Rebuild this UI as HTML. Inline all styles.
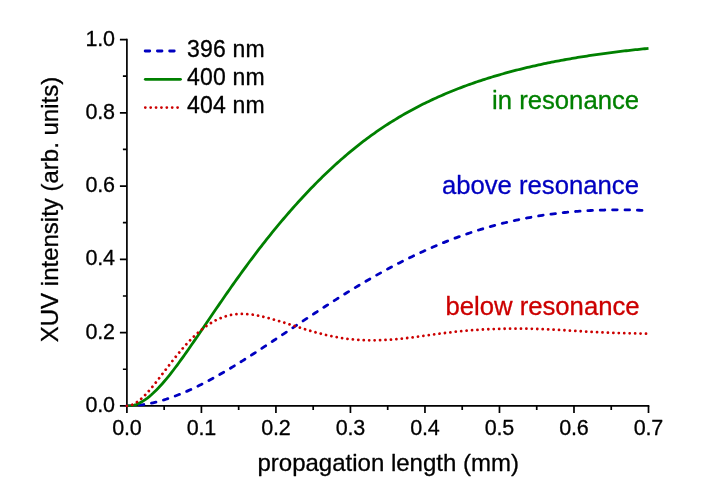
<!DOCTYPE html>
<html><head><meta charset="utf-8"><title>XUV intensity vs propagation length</title>
<style>
html,body{margin:0;padding:0;background:#fff;}
body{width:706px;height:496px;overflow:hidden;}
svg{display:block;font-family:"Liberation Sans",sans-serif;will-change:transform;}
text{stroke-width:0.3px;stroke-linejoin:round;}
.k text{stroke:#000;}
.c{fill:none;stroke-width:2.8;stroke-linejoin:round;}
</style></head><body>
<svg width="706" height="496" viewBox="0 0 706 496">
<rect width="706" height="496" fill="#fff"/>
<g fill="none" stroke="#000" stroke-width="1.7">
<path d="M126.9,38.699999999999996 V405.9 H649.35"/>
<path d="M126.90,405.9 v7 M201.41,405.9 v7 M275.93,405.9 v7 M350.44,405.9 v7 M424.96,405.9 v7 M499.47,405.9 v7 M573.99,405.9 v7 M648.50,405.9 v7 M164.16,405.9 v4 M238.67,405.9 v4 M313.19,405.9 v4 M387.70,405.9 v4 M462.21,405.9 v4 M536.73,405.9 v4 M611.24,405.9 v4 M126.9,405.90 h-7 M126.9,332.63 h-7 M126.9,259.36 h-7 M126.9,186.09 h-7 M126.9,112.82 h-7 M126.9,39.55 h-7 M126.9,369.26 h-4 M126.9,296.00 h-4 M126.9,222.72 h-4 M126.9,149.45 h-4 M126.9,76.19 h-4"/>
</g>
<g class="c">
<clipPath id="pc"><rect x="120" y="30" width="535" height="376.75"/></clipPath>
<path clip-path="url(#pc)" d="M126.90,405.85 L128.76,405.83 L130.63,405.78 L132.49,405.70 L134.35,405.58 L136.21,405.44 L138.08,405.26 L139.94,405.05 L141.80,404.81 L143.67,404.54 L145.53,404.25 L147.39,403.92 L149.25,403.57 L151.12,403.19 L152.98,402.78 L154.84,402.35 L156.71,401.89 L158.57,401.40 L160.43,400.89 L162.29,400.36 L164.16,399.80 L166.02,399.22 L167.88,398.62 L169.75,397.99 L171.61,397.35 L173.47,396.68 L175.33,395.99 L177.20,395.28 L179.06,394.55 L180.92,393.80 L182.79,393.03 L184.65,392.24 L186.51,391.44 L188.37,390.62 L190.24,389.78 L192.10,388.92 L193.96,388.04 L195.83,387.16 L197.69,386.25 L199.55,385.33 L201.41,384.40 L203.28,383.45 L205.14,382.48 L207.00,381.51 L208.87,380.52 L210.73,379.51 L212.59,378.50 L214.45,377.47 L216.32,376.43 L218.18,375.38 L220.04,374.32 L221.91,373.25 L223.77,372.17 L225.63,371.07 L227.49,369.97 L229.36,368.86 L231.22,367.74 L233.08,366.62 L234.95,365.48 L236.81,364.34 L238.67,363.18 L240.53,362.03 L242.40,360.86 L244.26,359.69 L246.12,358.51 L247.99,357.33 L249.85,356.14 L251.71,354.94 L253.57,353.74 L255.44,352.54 L257.30,351.33 L259.16,350.12 L261.03,348.90 L262.89,347.68 L264.75,346.45 L266.61,345.23 L268.48,344.00 L270.34,342.76 L272.20,341.53 L274.07,340.29 L275.93,339.05 L277.79,337.81 L279.65,336.57 L281.52,335.33 L283.38,334.09 L285.24,332.84 L287.11,331.60 L288.97,330.36 L290.83,329.11 L292.69,327.87 L294.56,326.62 L296.42,325.38 L298.28,324.14 L300.15,322.90 L302.01,321.66 L303.87,320.42 L305.73,319.19 L307.60,317.95 L309.46,316.72 L311.32,315.49 L313.19,314.27 L315.05,313.04 L316.91,311.82 L318.77,310.60 L320.64,309.39 L322.50,308.18 L324.36,306.97 L326.23,305.77 L328.09,304.56 L329.95,303.37 L331.81,302.18 L333.68,300.99 L335.54,299.81 L337.40,298.63 L339.27,297.45 L341.13,296.29 L342.99,295.12 L344.85,293.96 L346.72,292.81 L348.58,291.66 L350.44,290.52 L352.31,289.38 L354.17,288.25 L356.03,287.13 L357.89,286.01 L359.76,284.90 L361.62,283.79 L363.48,282.69 L365.35,281.60 L367.21,280.51 L369.07,279.43 L370.93,278.36 L372.80,277.29 L374.66,276.23 L376.52,275.18 L378.39,274.14 L380.25,273.10 L382.11,272.07 L383.97,271.04 L385.84,270.03 L387.70,269.02 L389.56,268.02 L391.43,267.03 L393.29,266.04 L395.15,265.07 L397.01,264.10 L398.88,263.14 L400.74,262.18 L402.60,261.24 L404.47,260.30 L406.33,259.38 L408.19,258.46 L410.05,257.54 L411.92,256.64 L413.78,255.75 L415.64,254.86 L417.51,253.98 L419.37,253.11 L421.23,252.25 L423.09,251.40 L424.96,250.56 L426.82,249.72 L428.68,248.89 L430.55,248.08 L432.41,247.27 L434.27,246.47 L436.13,245.68 L438.00,244.90 L439.86,244.12 L441.72,243.36 L443.59,242.60 L445.45,241.86 L447.31,241.12 L449.17,240.39 L451.04,239.67 L452.90,238.96 L454.76,238.26 L456.63,237.57 L458.49,236.89 L460.35,236.21 L462.21,235.55 L464.08,234.89 L465.94,234.25 L467.80,233.61 L469.67,232.98 L471.53,232.36 L473.39,231.75 L475.25,231.15 L477.12,230.55 L478.98,229.97 L480.84,229.40 L482.71,228.83 L484.57,228.27 L486.43,227.73 L488.29,227.19 L490.16,226.66 L492.02,226.14 L493.88,225.62 L495.75,225.12 L497.61,224.63 L499.47,224.14 L501.33,223.66 L503.20,223.20 L505.06,222.74 L506.92,222.29 L508.79,221.85 L510.65,221.41 L512.51,220.99 L514.37,220.57 L516.24,220.17 L518.10,219.77 L519.96,219.38 L521.83,219.00 L523.69,218.62 L525.55,218.26 L527.41,217.90 L529.28,217.56 L531.14,217.22 L533.00,216.89 L534.87,216.56 L536.73,216.25 L538.59,215.94 L540.45,215.64 L542.32,215.35 L544.18,215.07 L546.04,214.80 L547.91,214.53 L549.77,214.27 L551.63,214.02 L553.49,213.78 L555.36,213.55 L557.22,213.32 L559.08,213.10 L560.95,212.89 L562.81,212.69 L564.67,212.49 L566.53,212.30 L568.40,212.12 L570.26,211.95 L572.12,211.78 L573.99,211.62 L575.85,211.47 L577.71,211.32 L579.57,211.19 L581.44,211.06 L583.30,210.93 L585.16,210.82 L587.03,210.71 L588.89,210.60 L590.75,210.51 L592.61,210.42 L594.48,210.34 L596.34,210.26 L598.20,210.19 L600.07,210.13 L601.93,210.07 L603.79,210.03 L605.65,209.98 L607.52,209.95 L609.38,209.91 L611.24,209.89 L613.11,209.87 L614.97,209.86 L616.83,209.85 L618.69,209.85 L620.56,209.86 L622.42,209.87 L624.28,209.89 L626.15,209.91 L628.01,209.94 L629.87,209.98 L631.73,210.02 L633.60,210.06 L635.46,210.11 L637.32,210.17 L639.19,210.23 L641.05,210.30 L642.91,210.37 L644.77,210.45 L646.64,210.53 L648.50,210.62" stroke="#0000c0" stroke-dasharray="4.6 7.785" stroke-linecap="round"/>
<path clip-path="url(#pc)" d="M126.90,405.93 L128.76,405.97 L130.63,405.83 L132.49,405.53 L134.35,405.07 L136.21,404.46 L138.08,403.71 L139.94,402.83 L141.80,401.81 L143.67,400.67 L145.53,399.41 L147.39,398.03 L149.25,396.56 L151.12,394.98 L152.98,393.31 L154.84,391.54 L156.71,389.69 L158.57,387.77 L160.43,385.76 L162.29,383.69 L164.16,381.54 L166.02,379.34 L167.88,377.08 L169.75,374.76 L171.61,372.40 L173.47,369.99 L175.33,367.53 L177.20,365.04 L179.06,362.51 L180.92,359.94 L182.79,357.35 L184.65,354.74 L186.51,352.10 L188.37,349.43 L190.24,346.76 L192.10,344.06 L193.96,341.36 L195.83,338.65 L197.69,335.92 L199.55,333.20 L201.41,330.46 L203.28,327.73 L205.14,324.99 L207.00,322.25 L208.87,319.51 L210.73,316.77 L212.59,314.04 L214.45,311.31 L216.32,308.58 L218.18,305.86 L220.04,303.15 L221.91,300.45 L223.77,297.75 L225.63,295.06 L227.49,292.39 L229.36,289.72 L231.22,287.07 L233.08,284.43 L234.95,281.80 L236.81,279.18 L238.67,276.58 L240.53,273.99 L242.40,271.42 L244.26,268.86 L246.12,266.32 L247.99,263.79 L249.85,261.28 L251.71,258.79 L253.57,256.31 L255.44,253.84 L257.30,251.40 L259.16,248.97 L261.03,246.56 L262.89,244.17 L264.75,241.79 L266.61,239.43 L268.48,237.09 L270.34,234.77 L272.20,232.46 L274.07,230.18 L275.93,227.90 L277.79,225.65 L279.65,223.42 L281.52,221.20 L283.38,219.00 L285.24,216.82 L287.11,214.65 L288.97,212.50 L290.83,210.37 L292.69,208.26 L294.56,206.16 L296.42,204.08 L298.28,202.02 L300.15,199.98 L302.01,197.95 L303.87,195.94 L305.73,193.95 L307.60,191.97 L309.46,190.02 L311.32,188.08 L313.19,186.16 L315.05,184.26 L316.91,182.38 L318.77,180.51 L320.64,178.67 L322.50,176.84 L324.36,175.03 L326.23,173.24 L328.09,171.46 L329.95,169.71 L331.81,167.97 L333.68,166.25 L335.54,164.55 L337.40,162.87 L339.27,161.21 L341.13,159.56 L342.99,157.93 L344.85,156.33 L346.72,154.73 L348.58,153.16 L350.44,151.61 L352.31,150.07 L354.17,148.55 L356.03,147.05 L357.89,145.57 L359.76,144.11 L361.62,142.66 L363.48,141.23 L365.35,139.82 L367.21,138.43 L369.07,137.05 L370.93,135.69 L372.80,134.35 L374.66,133.03 L376.52,131.72 L378.39,130.43 L380.25,129.16 L382.11,127.90 L383.97,126.67 L385.84,125.44 L387.70,124.24 L389.56,123.04 L391.43,121.87 L393.29,120.71 L395.15,119.57 L397.01,118.44 L398.88,117.32 L400.74,116.22 L402.60,115.14 L404.47,114.07 L406.33,113.01 L408.19,111.97 L410.05,110.94 L411.92,109.93 L413.78,108.93 L415.64,107.94 L417.51,106.97 L419.37,106.01 L421.23,105.06 L423.09,104.12 L424.96,103.20 L426.82,102.29 L428.68,101.39 L430.55,100.50 L432.41,99.63 L434.27,98.77 L436.13,97.92 L438.00,97.08 L439.86,96.25 L441.72,95.43 L443.59,94.62 L445.45,93.83 L447.31,93.04 L449.17,92.27 L451.04,91.50 L452.90,90.75 L454.76,90.00 L456.63,89.27 L458.49,88.54 L460.35,87.83 L462.21,87.12 L464.08,86.42 L465.94,85.74 L467.80,85.06 L469.67,84.39 L471.53,83.72 L473.39,83.07 L475.25,82.43 L477.12,81.79 L478.98,81.17 L480.84,80.55 L482.71,79.94 L484.57,79.33 L486.43,78.74 L488.29,78.15 L490.16,77.57 L492.02,77.00 L493.88,76.44 L495.75,75.88 L497.61,75.33 L499.47,74.79 L501.33,74.26 L503.20,73.73 L505.06,73.21 L506.92,72.70 L508.79,72.19 L510.65,71.69 L512.51,71.20 L514.37,70.71 L516.24,70.23 L518.10,69.75 L519.96,69.29 L521.83,68.82 L523.69,68.37 L525.55,67.92 L527.41,67.48 L529.28,67.04 L531.14,66.61 L533.00,66.18 L534.87,65.76 L536.73,65.35 L538.59,64.94 L540.45,64.53 L542.32,64.13 L544.18,63.74 L546.04,63.35 L547.91,62.97 L549.77,62.59 L551.63,62.22 L553.49,61.85 L555.36,61.49 L557.22,61.13 L559.08,60.78 L560.95,60.43 L562.81,60.09 L564.67,59.75 L566.53,59.41 L568.40,59.08 L570.26,58.76 L572.12,58.43 L573.99,58.12 L575.85,57.80 L577.71,57.49 L579.57,57.19 L581.44,56.89 L583.30,56.59 L585.16,56.30 L587.03,56.01 L588.89,55.72 L590.75,55.44 L592.61,55.17 L594.48,54.89 L596.34,54.62 L598.20,54.36 L600.07,54.09 L601.93,53.83 L603.79,53.58 L605.65,53.32 L607.52,53.08 L609.38,52.83 L611.24,52.59 L613.11,52.35 L614.97,52.11 L616.83,51.88 L618.69,51.65 L620.56,51.42 L622.42,51.20 L624.28,50.98 L626.15,50.76 L628.01,50.55 L629.87,50.33 L631.73,50.13 L633.60,49.92 L635.46,49.72 L637.32,49.52 L639.19,49.32 L641.05,49.12 L642.91,48.93 L644.77,48.74 L646.64,48.55 L648.50,48.37" stroke="#008000" stroke-linecap="butt"/>
<path d="M126.90,405.80 L128.76,405.67 L130.63,405.26 L132.49,404.61 L134.35,403.72 L136.21,402.62 L138.08,401.33 L139.94,399.87 L141.80,398.24 L143.67,396.47 L145.53,394.58 L147.39,392.57 L149.25,390.47 L151.12,388.28 L152.98,386.03 L154.84,383.71 L156.71,381.35 L158.57,378.96 L160.43,376.54 L162.29,374.10 L164.16,371.66 L166.02,369.22 L167.88,366.78 L169.75,364.37 L171.61,361.97 L173.47,359.60 L175.33,357.26 L177.20,354.96 L179.06,352.69 L180.92,350.48 L182.79,348.30 L184.65,346.18 L186.51,344.11 L188.37,342.10 L190.24,340.15 L192.10,338.26 L193.96,336.43 L195.83,334.67 L197.69,332.98 L199.55,331.36 L201.41,329.81 L203.28,328.33 L205.14,326.92 L207.00,325.58 L208.87,324.32 L210.73,323.14 L212.59,322.03 L214.45,320.99 L216.32,320.02 L218.18,319.13 L220.04,318.32 L221.91,317.58 L223.77,316.90 L225.63,316.30 L227.49,315.78 L229.36,315.31 L231.22,314.92 L233.08,314.59 L234.95,314.33 L236.81,314.13 L238.67,313.99 L240.53,313.91 L242.40,313.89 L244.26,313.92 L246.12,314.00 L247.99,314.14 L249.85,314.32 L251.71,314.54 L253.57,314.81 L255.44,315.11 L257.30,315.45 L259.16,315.83 L261.03,316.23 L262.89,316.66 L264.75,317.11 L266.61,317.58 L268.48,318.07 L270.34,318.57 L272.20,319.09 L274.07,319.62 L275.93,320.16 L277.79,320.71 L279.65,321.27 L281.52,321.83 L283.38,322.40 L285.24,322.98 L287.11,323.57 L288.97,324.15 L290.83,324.75 L292.69,325.34 L294.56,325.93 L296.42,326.53 L298.28,327.12 L300.15,327.71 L302.01,328.29 L303.87,328.87 L305.73,329.44 L307.60,330.01 L309.46,330.56 L311.32,331.11 L313.19,331.65 L315.05,332.17 L316.91,332.68 L318.77,333.18 L320.64,333.67 L322.50,334.14 L324.36,334.59 L326.23,335.04 L328.09,335.46 L329.95,335.87 L331.81,336.26 L333.68,336.64 L335.54,336.99 L337.40,337.33 L339.27,337.65 L341.13,337.95 L342.99,338.24 L344.85,338.50 L346.72,338.75 L348.58,338.98 L350.44,339.18 L352.31,339.37 L354.17,339.55 L356.03,339.70 L357.89,339.83 L359.76,339.95 L361.62,340.05 L363.48,340.13 L365.35,340.20 L367.21,340.25 L369.07,340.28 L370.93,340.30 L372.80,340.30 L374.66,340.28 L376.52,340.25 L378.39,340.21 L380.25,340.15 L382.11,340.08 L383.97,339.99 L385.84,339.90 L387.70,339.79 L389.56,339.66 L391.43,339.53 L393.29,339.38 L395.15,339.23 L397.01,339.06 L398.88,338.89 L400.74,338.70 L402.60,338.51 L404.47,338.31 L406.33,338.10 L408.19,337.88 L410.05,337.66 L411.92,337.43 L413.78,337.20 L415.64,336.96 L417.51,336.71 L419.37,336.47 L421.23,336.21 L423.09,335.96 L424.96,335.70 L426.82,335.45 L428.68,335.19 L430.55,334.93 L432.41,334.67 L434.27,334.42 L436.13,334.16 L438.00,333.91 L439.86,333.66 L441.72,333.41 L443.59,333.17 L445.45,332.93 L447.31,332.70 L449.17,332.47 L451.04,332.25 L452.90,332.03 L454.76,331.82 L456.63,331.62 L458.49,331.42 L460.35,331.23 L462.21,331.05 L464.08,330.88 L465.94,330.71 L467.80,330.55 L469.67,330.40 L471.53,330.25 L473.39,330.11 L475.25,329.98 L477.12,329.86 L478.98,329.74 L480.84,329.63 L482.71,329.53 L484.57,329.43 L486.43,329.34 L488.29,329.25 L490.16,329.17 L492.02,329.10 L493.88,329.03 L495.75,328.97 L497.61,328.91 L499.47,328.86 L501.33,328.82 L503.20,328.78 L505.06,328.74 L506.92,328.71 L508.79,328.68 L510.65,328.67 L512.51,328.65 L514.37,328.64 L516.24,328.64 L518.10,328.64 L519.96,328.65 L521.83,328.66 L523.69,328.68 L525.55,328.71 L527.41,328.74 L529.28,328.77 L531.14,328.81 L533.00,328.86 L534.87,328.91 L536.73,328.96 L538.59,329.02 L540.45,329.09 L542.32,329.16 L544.18,329.23 L546.04,329.31 L547.91,329.39 L549.77,329.48 L551.63,329.57 L553.49,329.66 L555.36,329.76 L557.22,329.86 L559.08,329.96 L560.95,330.06 L562.81,330.17 L564.67,330.28 L566.53,330.39 L568.40,330.51 L570.26,330.62 L572.12,330.74 L573.99,330.85 L575.85,330.97 L577.71,331.08 L579.57,331.20 L581.44,331.31 L583.30,331.43 L585.16,331.54 L587.03,331.65 L588.89,331.75 L590.75,331.86 L592.61,331.96 L594.48,332.06 L596.34,332.16 L598.20,332.25 L600.07,332.34 L601.93,332.43 L603.79,332.51 L605.65,332.59 L607.52,332.66 L609.38,332.73 L611.24,332.80 L613.11,332.87 L614.97,332.93 L616.83,332.99 L618.69,333.04 L620.56,333.10 L622.42,333.15 L624.28,333.19 L626.15,333.24 L628.01,333.28 L629.87,333.33 L631.73,333.37 L633.60,333.41 L635.46,333.45 L637.32,333.49 L639.19,333.54 L641.05,333.58 L642.91,333.62 L644.77,333.67 L646.64,333.72 L648.50,333.78" stroke="#cc0000" stroke-dasharray="0.01 5.432" stroke-linecap="round"/>
<path d="M145.15,51.0 H181" stroke="#0000c0" stroke-dasharray="4.6 7.65" stroke-linecap="round"/>
<path d="M145.3,79.3 H180.5" stroke="#008000" stroke-linecap="round"/>
<path d="M145.3,107.6 H181" stroke="#cc0000" stroke-dasharray="0.01 5.37" stroke-linecap="round"/>
</g>
<g class="k" font-size="21.5px" letter-spacing="-0.2" fill="#000"><text x="126.90" y="434.5" text-anchor="middle">0.0</text><text x="201.41" y="434.5" text-anchor="middle">0.1</text><text x="275.93" y="434.5" text-anchor="middle">0.2</text><text x="350.44" y="434.5" text-anchor="middle">0.3</text><text x="424.96" y="434.5" text-anchor="middle">0.4</text><text x="499.47" y="434.5" text-anchor="middle">0.5</text><text x="573.99" y="434.5" text-anchor="middle">0.6</text><text x="648.50" y="434.5" text-anchor="middle">0.7</text><text x="114.7" y="411.90" text-anchor="end">0.0</text><text x="114.7" y="338.63" text-anchor="end">0.2</text><text x="114.7" y="265.36" text-anchor="end">0.4</text><text x="114.7" y="192.09" text-anchor="end">0.6</text><text x="114.7" y="118.82" text-anchor="end">0.8</text><text x="114.7" y="45.55" text-anchor="end">1.0</text></g>
<g class="k" font-size="23px" fill="#000">
<text x="187.1" y="57.1" letter-spacing="0.18">396 nm</text>
<text x="187.1" y="85.4" letter-spacing="0.18">400 nm</text>
<text x="187.1" y="113.2" letter-spacing="0.18">404 nm</text>
</g>
<g class="k" font-size="24px" fill="#000">
<text x="388.2" y="471.2" text-anchor="middle">propagation length (mm)</text>
<text transform="translate(58.1,209.5) rotate(-90)" text-anchor="middle">XUV intensity (arb. units)</text>
</g>
<g font-size="25.7px" text-anchor="end">
<text x="639.1" y="108.5" fill="#008000" stroke="#008000">in resonance</text>
<text x="639.0" y="193.6" fill="#0000c0" stroke="#0000c0">above resonance</text>
<text x="639.6" y="315.1" fill="#cc0000" stroke="#cc0000">below resonance</text>
</g>
</svg>
</body></html>
